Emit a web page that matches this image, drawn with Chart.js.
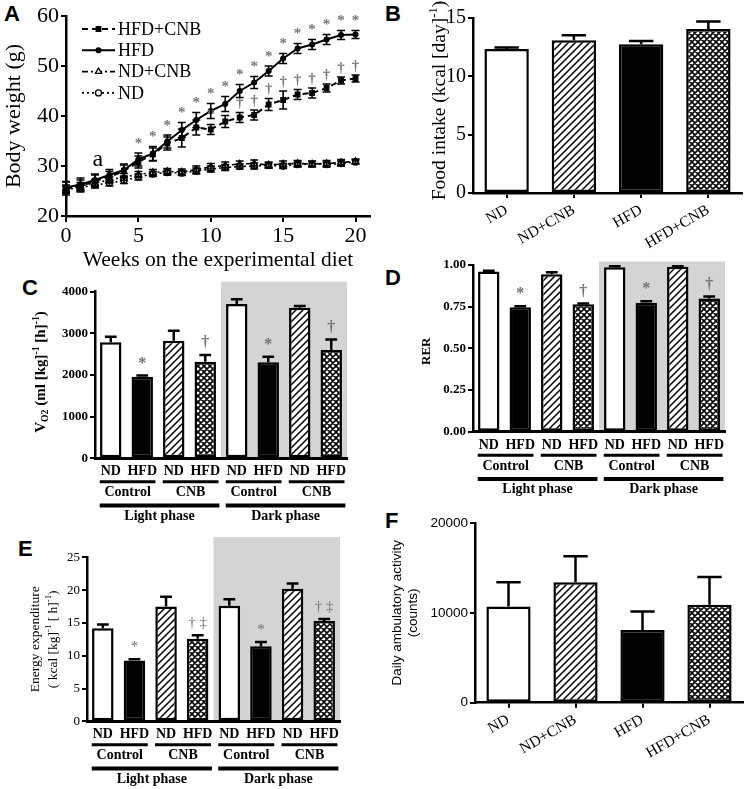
<!DOCTYPE html>
<html><head><meta charset="utf-8">
<script src="https://cdn.jsdelivr.net/npm/chart.js@4.4.1/dist/chart.umd.min.js"></script>
<style>
body{margin:0;background:#fff;width:747px;height:789px;position:relative;overflow:hidden}
canvas{position:absolute}
.pl{position:absolute;font:bold 22px "Liberation Sans",Arial,sans-serif;line-height:1;color:#000}
</style></head><body>
<div class="pl" style="left:4px;top:3px">A</div>
<div class="pl" style="left:385px;top:3px">B</div>
<div class="pl" style="left:22px;top:277px">C</div>
<div class="pl" style="left:385px;top:267px">D</div>
<div class="pl" style="left:18px;top:538px">E</div>
<div class="pl" style="left:385px;top:510px">F</div>
<canvas id="cA" width="378" height="275" style="left:0;top:0"></canvas>
<canvas id="cB" width="367" height="258" style="left:380px;top:0"></canvas>
<canvas id="cC" width="378" height="258" style="left:0;top:270px"></canvas>
<canvas id="cD" width="367" height="255" style="left:380px;top:255px"></canvas>
<canvas id="cE" width="378" height="261" style="left:0;top:528px"></canvas>
<canvas id="cF" width="367" height="284" style="left:380px;top:505px"></canvas>
<script>
// ---------------- DATA ----------------
const weeks = [0,1,2,3,4,5,6,7,8,9,10,11,12,13,14,15,16,17,18,19,20];
const weekTicks = [0,5,10,15,20];
const hfdCnbWeight = [25.5,26.0,27.0,27.8,29.0,30.8,32.3,34.5,35.6,37.7,37.3,38.9,39.7,40.2,42.3,43.2,44.3,44.6,45.6,47.1,47.5];
const hfdCnbErr    = [1.3,1.2,1.2,1.1,1.2,1.2,1.3,1.3,1.8,1.5,1.0,1.2,1.0,1.0,1.2,1.8,1.0,1.0,0.8,0.7,0.7];
const hfdWeight    = [25.7,26.3,27.2,28.2,29.2,31.3,32.5,34.9,37.2,39.2,41.0,42.4,45.0,46.7,49.0,51.5,53.5,54.3,55.3,56.2,56.3];
const hfdErr       = [1.2,1.3,1.2,1.1,1.2,1.3,1.4,1.3,1.5,1.5,1.5,1.5,1.3,1.2,1.0,1.0,1.0,1.0,1.0,0.9,0.8];
const ndCnbWeight  = [25.5,26.0,26.6,27.2,27.8,28.3,28.7,28.9,28.8,29.3,29.8,30.1,30.4,30.5,30.2,30.4,30.5,30.4,30.5,30.7,30.9];
const ndCnbErr     = [0.7,0.7,0.7,0.6,0.7,0.6,0.6,0.6,0.6,0.7,0.7,0.7,0.6,0.7,0.6,0.6,0.6,0.6,0.6,0.6,0.5];
const ndWeight     = [25.3,25.7,26.2,26.6,27.1,27.8,28.4,28.7,28.6,29.0,29.4,29.7,29.9,30.0,30.1,30.0,30.3,30.4,30.3,30.5,30.8];
const ndErr        = [0.6,0.6,0.6,0.6,0.6,0.6,0.5,0.5,0.5,0.6,0.6,0.6,0.5,0.6,0.5,0.5,0.5,0.5,0.5,0.5,0.4];
const hfdMarks     = ['','','','','','*','*','*','*','*','*','*','*','*','*','*','*','*','*','*','*'];
const hfdCnbMarks  = ['','','','','','','','','','','*','','†','†','†','†','†','†','†','†','†'];
const seriesNames  = ['HFD+CNB','HFD','ND+CNB','ND'];
const noteA = {text:'a', week:2.2, value:31.3};

const dietGroups   = ['ND','ND+CNB','HFD','HFD+CNB'];
const foodIntake   = [12.35,13.1,12.75,14.05];
const foodErr      = [0.12,0.42,0.28,0.65];

const phaseCats    = ['ND','HFD','ND','HFD','ND','HFD','ND','HFD'];
const treatLabels  = ['Control','CNB','Control','CNB'];
const phaseLabels  = ['Light phase','Dark phase'];

const vo2          = [2785,1960,2825,2320,3705,2305,3615,2600];
const vo2Err       = [135,25,240,160,112,135,40,255];
const vo2Marks     = ['','*','','†','','*','','†'];

const rer          = [0.960,0.746,0.944,0.764,0.985,0.772,0.988,0.798];
const rerErr       = [0.004,0.006,0.012,0.004,0.006,0.010,0.004,0.012];
const rerMarks     = ['','*','','†','','*','','†'];

const energyExp    = [14.2,9.25,17.5,12.6,17.6,11.45,20.2,15.3];
const energyErr    = [0.55,0.2,1.5,0.5,1.0,0.65,0.8,0.3];
const energyMarks  = ['','*','','† ‡','','*','','† ‡'];

const activity     = [10700,13400,8100,10900];
const activityErr  = [2700,2900,2050,3100];

// ---------------- STYLE HELPERS ----------------
const SERIF = '"Liberation Serif","Times New Roman",serif';
const SANS = '"Liberation Sans",Arial,sans-serif';
Chart.defaults.animation = false;
Chart.defaults.responsive = false;
Chart.defaults.devicePixelRatio = 1;
Chart.defaults.color = '#000';
Chart.defaults.plugins.legend.display = false;
Chart.defaults.plugins.tooltip.enabled = false;

function hatch(){
  const s=7,c=document.createElement('canvas');c.width=c.height=s;
  const g=c.getContext('2d');g.fillStyle='#fff';g.fillRect(0,0,s,s);
  g.strokeStyle='#000';g.lineWidth=1.5;
  g.beginPath();g.moveTo(0,s);g.lineTo(s,0);g.moveTo(-1,1);g.lineTo(1,-1);g.moveTo(s-1,s+1);g.lineTo(s+1,s-1);g.stroke();
  return g.createPattern(c,'repeat');
}
function cross(){
  const s=6,c=document.createElement('canvas');c.width=c.height=s;
  const g=c.getContext('2d');g.fillStyle='#fff';g.fillRect(0,0,s,s);
  g.strokeStyle='#000';g.lineWidth=1.6;
  g.beginPath();g.moveTo(0,0);g.lineTo(s,s);g.moveTo(0,s);g.lineTo(s,0);
  g.moveTo(-1,1);g.lineTo(1,-1);g.moveTo(s-1,s+1);g.lineTo(s+1,s-1);
  g.moveTo(-1,s-1);g.lineTo(1,s+1);g.moveTo(s-1,-1);g.lineTo(s+1,1);g.stroke();
  return g.createPattern(c,'repeat');
}
const HATCH = hatch(), CROSS = cross();
const fills4 = ['#fff',HATCH,'#000',CROSS];
const fills8 = ['#fff','#000',HATCH,CROSS,'#fff','#000',HATCH,CROSS];

function drawRich(ctx, parts, cx, cy, rot, font){
  ctx.save();ctx.translate(cx,cy);ctx.rotate(rot);
  const f=s=>`${font.weight||'normal'} ${s}px ${font.family}`;
  let tot=0;const ws=[];
  parts.forEach(([t,k])=>{ctx.font=f(k?font.size*0.65:font.size);const w=ctx.measureText(t).width;ws.push(w);tot+=w;});
  let x=-tot/2;ctx.textAlign='left';ctx.textBaseline='middle';ctx.fillStyle='#000';
  parts.forEach(([t,k],i)=>{ctx.font=f(k?font.size*0.65:font.size);
    const dy=k==='sup'?-font.size*0.32:(k==='sub'?font.size*0.28:0);ctx.fillText(t,x,dy);x+=ws[i];});
  ctx.restore();
}

const deco = {
  id:'deco',
  beforeDraw(chart,args,o){
    const {ctx,chartArea:a,scales}=chart;
    if(o.band){
      const x0=scales.x.getPixelForValue(o.band.from), top=scales.y.getPixelForValue(o.band.top);
      ctx.save();ctx.fillStyle='#d4d4d4';ctx.fillRect(x0,top,a.right-x0,a.bottom-top);ctx.restore();
    }
  },
  afterDatasetsDraw(chart,args,o){
    const {ctx,scales:{y}}=chart;
    (o.errors||[]).forEach((errs,di)=>{
      if(!errs)return;
      const meta=chart.getDatasetMeta(di), ds=chart.data.datasets[di];
      ctx.save();ctx.strokeStyle='#000';ctx.lineWidth=o.errWidth||2;
      meta.data.forEach((el,i)=>{
        const d=ds.data[i], v=(typeof d==='object')?d.y:d;
        const px=el.x, hi=y.getPixelForValue(v+errs[i]);
        const lo=o.both?y.getPixelForValue(v-errs[i]):y.getPixelForValue(v);
        const cw=o.capFrac?el.width*o.capFrac/2:o.cap/2;
        ctx.beginPath();ctx.moveTo(px,lo);ctx.lineTo(px,hi);ctx.moveTo(px-cw,hi);ctx.lineTo(px+cw,hi);
        if(o.both){ctx.moveTo(px-cw,lo);ctx.lineTo(px+cw,lo);}
        ctx.stroke();
      });
      ctx.restore();
      const mk=(o.marks||[])[di];
      if(mk){
        ctx.save();ctx.fillStyle=o.markColor||'#6a6a6a';ctx.font=o.markFont;ctx.textAlign='center';ctx.textBaseline='middle';
        meta.data.forEach((el,i)=>{if(!mk[i])return;const d=ds.data[i],v=(typeof d==='object')?d.y:d;
          ctx.fillText(mk[i],el.x,y.getPixelForValue(v+errs[i])-o.markGap);});
        ctx.restore();
      }
    });
  },
  afterDraw(chart,args,o){
    const {ctx,chartArea:a,scales}=chart;
    (o.titles||[]).forEach(t=>{
      if(t.rot) drawRich(ctx,t.parts,a.left+t.dx,(a.top+a.bottom)/2+(t.dy||0),-Math.PI/2,t.font);
      else drawRich(ctx,t.parts,(a.left+a.right)/2+(t.dx||0),a.bottom+t.dy,0,t.font);
    });
    if(o.groups){
      const x=scales.x,b=a.bottom;
      ctx.save();ctx.fillStyle='#000';ctx.strokeStyle='#000';ctx.textAlign='center';ctx.textBaseline='middle';
      ctx.font=o.groups.font;
      o.groups.treat.forEach((t,k)=>{const i=2*k,x0=x.getPixelForValue(i-0.35),x1=x.getPixelForValue(i+1.42);
        ctx.lineWidth=3;ctx.beginPath();ctx.moveTo(x0,b+23.5);ctx.lineTo(x1,b+23.5);ctx.stroke();
        ctx.fillText(t,(x0+x1)/2,b+34.5);});
      o.groups.phase.forEach((t,k)=>{const i=4*k,x0=x.getPixelForValue(i-0.35),x1=x.getPixelForValue(i+3.45);
        ctx.lineWidth=4;ctx.beginPath();ctx.moveTo(x0,b+47.3);ctx.lineTo(x1,b+47.3);ctx.stroke();
        ctx.fillText(t,(x0+x1)/2,b+58);});
      ctx.restore();
    }
    if(o.legend){
      const L=o.legend;
      ctx.save();
      chart.data.datasets.forEach((ds,i)=>{
        const yy=a.top+L.y0+i*L.step, x0=a.left+L.x0, x1=a.left+L.x1;
        ctx.strokeStyle='#000';ctx.lineWidth=ds.borderWidth;ctx.setLineDash(ds.borderDash||[]);
        ctx.beginPath();ctx.moveTo(x0,yy);ctx.lineTo(x1,yy);ctx.stroke();ctx.setLineDash([]);
        ctx.fillStyle=ds.pointBackgroundColor;ctx.strokeStyle='#000';ctx.lineWidth=ds.pointBorderWidth;
        Chart.helpers.drawPoint(ctx,{pointStyle:ds.pointStyle,radius:ds.pointRadius,borderWidth:ds.pointBorderWidth,rotation:0},(x0+x1)/2,yy);
        ctx.fillStyle='#000';ctx.font=L.font;ctx.textAlign='left';ctx.textBaseline='middle';
        ctx.fillText(ds.label,x1+L.gap,yy+1);
      });
      ctx.restore();
    }
    if(o.note){
      ctx.save();ctx.fillStyle='#000';ctx.font=o.note.font;ctx.textAlign='center';ctx.textBaseline='middle';
      ctx.fillText(o.note.text,scales.x.getPixelForValue(o.note.week),scales.y.getPixelForValue(o.note.value));ctx.restore();
    }
  }
};

function axisY(min,max,step,font,width,fmt){
  return {min,max,ticks:{stepSize:step,font,color:'#000',padding:2,callback:fmt||(v=>v)},
    grid:{display:true,drawOnChartArea:false,drawTicks:true,tickLength:5,color:'#000',lineWidth:2},
    border:{display:true,color:'#000',width:2.5},afterFit:s=>{s.width=width;}};
}

// ---------------- A ----------------
function lineDs(label,vals,dash,style,r,bg,bw){
  return {label,data:weeks.map((w,i)=>({x:w,y:vals[i]})),borderColor:'#000',borderWidth:bw,borderDash:dash,
    pointStyle:style,pointRadius:r,pointBackgroundColor:bg,pointBorderColor:'#000',pointBorderWidth:1.3,tension:0,clip:false};
}
new Chart(document.getElementById('cA'),{
  type:'line',
  data:{datasets:[
    lineDs(seriesNames[0],hfdCnbWeight,[6,4],'rect',3.2,'#000',2),
    lineDs(seriesNames[1],hfdWeight,[],'circle',2.4,'#000',2),
    lineDs(seriesNames[2],ndCnbWeight,[6,3,2,3],'triangle',3.6,'#fff',1.6),
    lineDs(seriesNames[3],ndWeight,[2,3],'circle',3,'#fff',1.6)
  ]},
  options:{
    layout:{padding:{top:16,right:8,left:0,bottom:0}},
    scales:{
      x:{type:'linear',min:0,max:21,afterBuildTicks:s=>{s.ticks=weekTicks.map(v=>({value:v}));},
        ticks:{stepSize:5,font:{family:SERIF,size:22},color:'#000',padding:1,maxRotation:0,autoSkip:false},
        grid:{display:true,drawOnChartArea:false,drawTicks:true,tickLength:6,color:'#000',lineWidth:2},
        border:{display:true,color:'#000',width:2.5},afterFit:s=>{s.height=59;}},
      y:axisY(20,60,10,{family:SERIF,size:22},66)
    },
    plugins:{deco:{
      errors:[hfdCnbErr,hfdErr,ndCnbErr,ndErr],both:true,cap:8,errWidth:1.6,
      marks:[hfdCnbMarks,hfdMarks,null,null],markGap:9,markFont:`bold 15px ${SERIF}`,markColor:'#777',
      titles:[
        {rot:true,dx:-52,parts:[['Body weight (g)']],font:{family:SERIF,size:22}},
        {rot:false,dy:44,parts:[['Weeks on the experimental diet']],font:{family:SERIF,size:21.5}}
      ],
      legend:{y0:13,step:21.3,x0:16,x1:49,gap:3,font:`18px ${SERIF}`},
      note:Object.assign({font:`24px ${SERIF}`},noteA)
    }}
  },
  plugins:[deco]
});

// ---------------- bar helpers ----------------
function simpleBar(id,labels,vals,errs,fills,yAxis,padTop,padRight,xH,titles,extra){
  new Chart(document.getElementById(id),{
    type:'bar',
    data:{labels,datasets:[{data:vals,backgroundColor:fills,borderColor:'#000',borderWidth:2.5,borderSkipped:false,
      barPercentage:0.66,categoryPercentage:1}]},
    options:{
      layout:{padding:{top:padTop,right:padRight,left:0,bottom:0}},
      scales:{
        x:{ticks:{font:{family:SERIF,size:15.5},color:'#000',minRotation:30,maxRotation:30,padding:3,autoSkip:false},
          grid:{display:true,drawOnChartArea:false,drawTicks:true,tickLength:5,color:'#000',lineWidth:2,offset:false},
          border:{display:true,color:'#000',width:2.5},afterFit:s=>{s.height=xH;}},
        y:yAxis
      },
      plugins:{deco:Object.assign({errors:[errs],capFrac:0.55,errWidth:2.5,titles},extra||{})}
    },
    plugins:[deco]
  });
}
function phaseBar(id,vals,errs,marks,yAxis,padTop,padRight,xH,bandTop,titles,markFont){
  new Chart(document.getElementById(id),{
    type:'bar',
    data:{labels:phaseCats,datasets:[{data:vals,backgroundColor:fills8,borderColor:'#000',borderWidth:2.5,borderSkipped:false,
      barPercentage:0.68,categoryPercentage:1}]},
    options:{
      layout:{padding:{top:padTop,right:padRight,left:0,bottom:0}},
      scales:{
        x:{ticks:{font:{family:SERIF,size:14,weight:'bold'},color:'#000',maxRotation:0,minRotation:0,padding:5,autoSkip:false},
          grid:{display:false,drawTicks:false},
          border:{display:true,color:'#000',width:3},afterFit:s=>{s.height=xH;}},
        y:yAxis
      },
      plugins:{deco:{errors:[errs],capFrac:0.55,errWidth:2.5,marks:[marks],markGap:12,markFont:markFont||`bold 16px ${SERIF}`,markColor:'#707070',
        band:{from:3.5,top:bandTop},titles,groups:{treat:treatLabels,phase:phaseLabels,font:`bold 14px ${SERIF}`}}}
    },
    plugins:[deco]
  });
}

// ---------------- B ----------------
simpleBar('cB',dietGroups,foodIntake,foodErr,fills4,
  axisY(0,15,5,{family:SERIF,size:20},93),18,5,65,
  [{rot:true,dx:-33,dy:-5,parts:[['Food intake (kcal [day]'],['-1','sup'],[')']],font:{family:SERIF,size:19.5}}]);

// ---------------- C ----------------
phaseBar('cC',vo2,vo2Err,vo2Marks,
  axisY(0,4000,1000,{family:SERIF,size:13,weight:'bold'},95),21.7,31,69.7,4240,
  [{rot:true,dx:-54,dy:-3,parts:[['V'],['O2','sub'],[' (ml [kg]'],['-1','sup'],[' [h]'],['-1','sup'],[')']],font:{family:SERIF,size:15,weight:'bold'}}]);

// ---------------- D ----------------
phaseBar('cD',rer,rerErr,rerMarks,
  axisY(0,1,0.25,{family:SERIF,size:13,weight:'bold'},93,v=>v.toFixed(2)),8.3,22,78.3,1.02,
  [{rot:true,dx:-46,dy:3,parts:[['RER']],font:{family:SERIF,size:13,weight:'bold'}}]);

// ---------------- E ----------------
phaseBar('cE',energyExp,energyErr,energyMarks,
  axisY(0,25,5,{family:SERIF,size:13},87),29.3,38,67.7,28.1,
  [{rot:true,dx:-52,parts:[['Energy expenditure']],font:{family:SERIF,size:13.5}},
   {rot:true,dx:-34,parts:[['( kcal [kg]'],['-1','sup'],[' [ h]'],['-1','sup'],[')']],font:{family:SERIF,size:13.5}}],
  `15px ${SERIF}`);

// ---------------- F ----------------
simpleBar('cF',dietGroups,activity,activityErr,fills4,
  axisY(0,20000,10000,{family:SANS,size:13.5},95),18,4,86.3,
  [{rot:true,dx:-78,parts:[['Daily ambulatory activity']],font:{family:SANS,size:13.5}},
   {rot:true,dx:-62,parts:[['(counts)']],font:{family:SANS,size:13.5}}]);
</script>
</body></html>
